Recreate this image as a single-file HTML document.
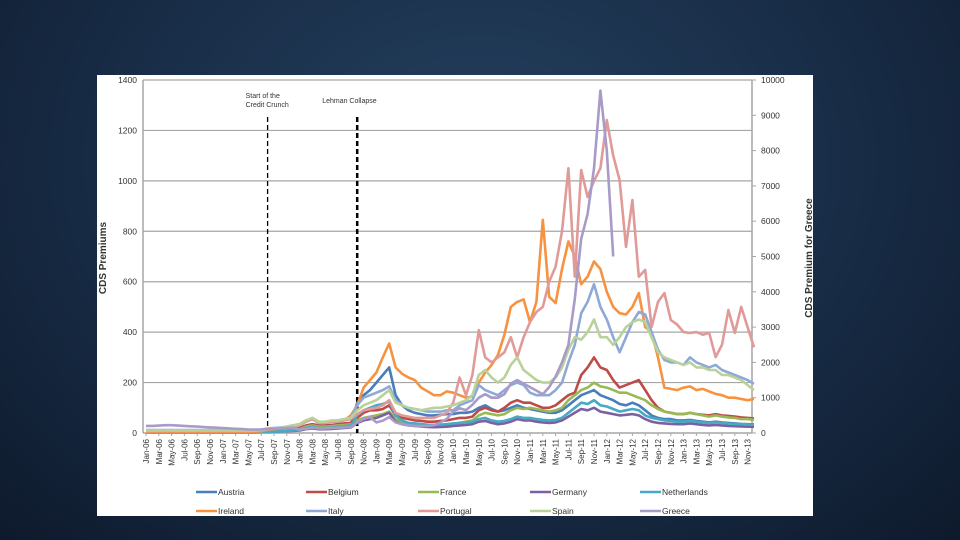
<!DOCTYPE html>
<html><head><meta charset="utf-8"><style>
html,body{margin:0;padding:0;width:960px;height:540px;overflow:hidden;background:#15243a;}
body{background:radial-gradient(ellipse at 50% 30%,#24405e 0%,#182c46 55%,#0e1a2c 100%);}
#panel{position:absolute;left:97px;top:75px;width:716px;height:441px;background:#fff;}
svg{position:absolute;left:0;top:0;}
text{font-family:"Liberation Sans",sans-serif;fill:#333;}
</style></head><body>
<div id="panel"></div>
<svg id="chart" width="960" height="540"></svg>
<script>
const countries=["Austria","Belgium","France","Germany","Netherlands","Ireland","Italy","Portugal","Spain","Greece"];
const colors=["#4a7ebb","#be4b48","#98b954","#7d60a0","#46aac5","#f69240","#8fa9d6","#e09a98","#b8d29a","#a99bc8"];
const leftTicks=[0,200,400,600,800,1000,1200,1400];
const rightTicks=[0,1000,2000,3000,4000,5000,6000,7000,8000,9000,10000];
const monthLabels=["Jan","Mar","May","Jul","Sep","Nov"];
const years=["06","07","08","09","10","11","12","13"];
const events=[{m:19,label:["Start of the","Credit Crunch"],w:1.3},{m:33,label:["Lehman Collapse"],w:2.5}];
const austria=[3,3,3,3,3,3,3,3,3,3,3,3, 3,3,3,3,3,3,4,5,7,8,10,12, 15,25,30,25,25,27,30,32,35,120,150,170, 200,230,260,150,110,90,80,75,70,70,72,75, 75,80,80,85,100,110,95,85,90,100,110,100, 95,90,85,80,80,90,110,130,150,160,170,150, 140,130,115,110,120,110,90,70,60,55,55,50, 50,52,48,45,42,45,42,40,38,36,35,34];
const belgium=[3,3,3,3,3,3,3,3,3,3,3,3, 3,3,3,3,3,3,4,6,8,10,12,15, 20,30,35,30,30,32,35,38,40,60,80,90, 90,95,110,70,60,55,50,48,45,45,48,50, 55,60,60,65,90,100,90,85,100,120,130,120, 120,110,100,100,110,130,150,160,230,260,300,260, 250,210,180,190,200,210,170,130,100,85,80,75, 75,80,75,72,70,75,70,68,65,62,60,58];
const france=[3,3,3,3,3,3,3,3,3,3,3,3, 3,3,3,3,3,3,4,5,7,8,10,12, 15,25,30,25,25,27,30,32,35,50,60,65, 70,75,85,55,45,40,35,33,30,30,30,32, 35,40,45,50,70,80,75,70,75,90,100,95, 100,95,90,85,90,100,130,150,170,180,200,185, 180,170,160,160,150,140,130,110,95,85,80,75, 75,80,75,70,65,70,65,62,60,55,55,52];
const germany=[2,2,2,2,2,2,2,2,2,2,2,2, 2,2,2,2,2,2,3,4,5,6,7,8, 10,15,18,15,15,16,18,20,22,40,50,55, 60,70,80,45,35,30,28,26,24,23,24,25, 28,30,32,35,45,48,40,35,38,45,55,50, 50,45,42,40,42,50,65,80,95,90,100,85, 80,75,70,72,75,70,55,45,40,38,36,35, 35,38,35,32,30,32,30,28,27,26,25,25];
const netherlands=[2,2,2,2,2,2,2,2,2,2,2,2, 2,2,2,2,2,2,3,4,5,6,8,10, 12,20,25,20,20,22,25,27,30,70,90,100, 110,115,125,70,50,40,38,35,33,32,33,35, 38,40,42,45,55,60,50,45,48,55,65,60, 60,55,52,50,52,60,80,100,120,115,130,110, 105,95,85,90,95,90,70,60,55,50,48,45, 45,48,45,42,40,42,40,38,36,35,34,33];
const ireland=[4,4,4,4,4,4,4,4,4,4,4,4, 4,4,4,4,4,5,7,12,15,18,25,30, 35,50,60,45,40,45,50,50,70,110,180,210, 240,300,355,260,235,220,210,180,165,150,150,165, 160,150,140,145,200,240,270,310,390,500,520,530, 440,520,845,540,515,650,760,700,590,620,680,650, 560,500,475,470,500,555,420,400,300,180,175,170, 180,185,170,175,165,155,150,140,140,135,130,135];
const italy=[12,12,12,12,12,12,12,12,12,12,12,12, 12,12,12,12,12,12,14,18,20,22,25,30, 35,45,55,40,40,45,50,55,60,110,140,150, 160,170,185,130,110,100,95,90,85,85,85,90, 90,110,120,130,190,170,160,150,170,190,200,190, 160,150,150,150,170,200,280,350,475,520,590,500, 450,380,320,380,440,480,470,400,330,290,280,280, 270,300,280,270,260,270,250,240,230,220,210,195];
const portugal=[8,8,8,8,8,8,8,8,8,8,8,8, 8,8,8,8,8,9,10,15,17,18,20,25, 30,45,55,40,40,45,45,50,55,75,90,95, 100,110,130,80,70,65,60,60,60,60,70,80, 120,220,150,230,408,300,280,300,320,380,300,380, 440,480,500,600,660,800,1050,620,1043,936,1000,1050, 1241,1100,1003,738,924,620,647,420,520,555,448,430, 400,397,400,390,397,301,350,488,397,500,420,340];
const spain=[10,10,10,10,10,10,10,10,10,10,10,10, 10,10,10,10,10,10,12,15,18,20,25,30, 35,50,60,45,45,50,50,55,60,90,110,120, 130,150,170,120,110,100,95,90,95,100,100,105, 110,120,130,150,230,250,220,200,220,270,300,250, 230,210,200,200,220,260,330,380,370,400,450,380, 380,350,380,420,440,450,440,380,320,300,290,280, 270,280,260,260,250,250,230,230,220,210,190,170];
const greece=[200,200,210,220,220,210,200,190,180,170,160,150, 140,130,120,110,100,100,100,110,120,130,140,150, 100,120,150,130,130,140,150,160,170,300,400,450, 300,350,450,300,250,220,200,200,200,220,300,400, 600,700,650,800,1000,1100,1000,1000,1100,1400,1500,1400, 1300,1200,1100,1300,1600,2000,2500,3800,5500,6200,7500,9700, 8000,5000];
const series=[austria,belgium,france,germany,netherlands,ireland,italy,portugal,spain,greece];

const NS="http://www.w3.org/2000/svg";
const svg=document.getElementById('chart');
const X0=143,X1=752,YT=80,YB=433;
function xS(m){return 146+6.4*m;}
function yL(v){return YB-(v/1400)*(YB-YT);}
function yR(v){return YB-(v/10000)*(YB-YT);}
function mk(tag,attrs){const e=document.createElementNS(NS,tag);for(const k in attrs)e.setAttribute(k,attrs[k]);svg.appendChild(e);return e;}

leftTicks.forEach(v=>{
  if(v>0){const g=mk('line',{x1:X0,x2:X1,y1:yL(v),y2:yL(v),stroke:'#a6a6a6','stroke-width':1.2});
  
  }
  const t=mk('text',{x:X0-6,y:yL(v)+3,'text-anchor':'end','font-size':8.5});
  t.textContent=v;
  
  
});
rightTicks.forEach(v=>{
  mk('line',{x1:X1,x2:X1+4,y1:yR(v),y2:yR(v),stroke:'#a6a6a6'});
  const t=mk('text',{x:X1+9,y:yR(v)+3,'font-size':8.5});
  t.textContent=v;
  
  
});
const la=mk('line',{x1:X0,x2:X0,y1:YT,y2:YB,stroke:'#a6a6a6','stroke-width':1.5});


const ra=mk('line',{x1:X1,x2:X1,y1:YT,y2:YB,stroke:'#a6a6a6','stroke-width':1.5});


const xa=mk('line',{x1:X0,x2:X1,y1:YB,y2:YB,stroke:'#a6a6a6','stroke-width':1.5});



years.forEach((yy,yi)=>{monthLabels.forEach((mn,mi)=>{
  const m=yi*12+mi*2,x=xS(m);
  mk('line',{x1:x,x2:x,y1:YB,y2:YB+3,stroke:'#a6a6a6'});
  const t=mk('text',{x:0,y:0,'text-anchor':'end','font-size':8,transform:`translate(${x+3},${YB+6}) rotate(-90)`});
  t.textContent=mn+'-'+yy;
  
  
});});

events.forEach((ev,i)=>{
  const x=xS(ev.m);
  const l=mk('line',{x1:x,x2:x,y1:117,y2:YB,stroke:'#000','stroke-width':ev.w,'stroke-dasharray':'5,3'});
  
  
  ev.label.forEach((s,j)=>{
    const t=mk('text',{x:i==0?x-22:x-35,y:(i==0?98:103)+j*9,'font-size':7});
    t.textContent=s;
    
    
  });
});

series.forEach((arr,si)=>{
  const right=si===9;
  let d='';
  arr.forEach((v,m)=>{if(v==null)return;const y=right?yR(v):yL(v);d+=(d?'L':'M')+xS(m).toFixed(1)+','+y.toFixed(1);});
  const p=mk('path',{d:d,fill:'none',stroke:colors[si],'stroke-width':2.6,'stroke-linejoin':'round'});
  
  
});

const yt=mk('text',{x:0,y:0,'text-anchor':'middle','font-size':10,'font-weight':'bold',transform:'translate(106,258) rotate(-90)'});
yt.textContent='CDS Premiums';


const yt2=mk('text',{x:0,y:0,'text-anchor':'middle','font-size':10,'font-weight':'bold',transform:'translate(812,258) rotate(-90)'});
yt2.textContent='CDS Premium for Greece';



const lx=[196,306,418,530,640];
countries.forEach((c,i)=>{
  const x=lx[i%5],y=i<5?492:511;
  const l=mk('line',{x1:x,x2:x+21,y1:y,y2:y,stroke:colors[i],'stroke-width':2.5});
  
  
  const t=mk('text',{x:x+22,y:y+3,'font-size':8.5});
  t.textContent=c;
  
  
});
</script>
</body></html>
